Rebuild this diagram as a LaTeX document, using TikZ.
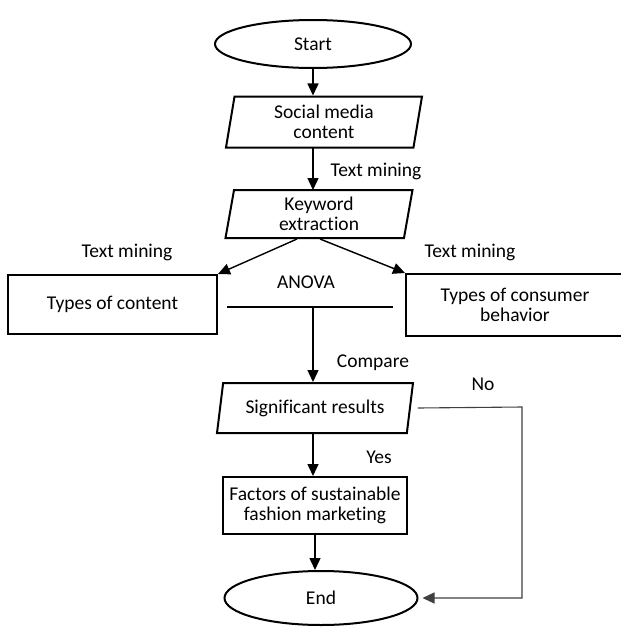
\documentclass[tikz,border=0pt]{standalone}
\usepackage{fontspec}
\setmainfont{Carlito}[Ligatures=NoCommon]
\usepackage{tikz}
\usetikzlibrary{arrows.meta}
\usetikzlibrary{shapes.geometric}
\usetikzlibrary{positioning}

\tikzset{
 box/.style={rectangle, draw=black, line width=2pt, inner sep=0pt, align=center},
 io/.style={trapezium, trapezium left angle=76, trapezium right angle=104, trapezium stretches body, draw=black, line width=2pt, inner sep=0pt, align=center},
 term/.style={ellipse, draw=black, line width=2pt, inner sep=0pt},
 go/.style={-{Triangle[width=11pt, length=12pt]}, line width=1.4pt, draw=black},
 lbl/.style={inner sep=0pt}
}

\begin{document}
\begin{tikzpicture}[x=1pt, y=-1pt, font=\fontsize{19.5}{20.5}\selectfont]
 \useasboundingbox (0,0) rectangle (621,627);
 \node [term, minimum width=196pt, minimum height=48pt] (St) at (313, 44) {Start};
 \node [io, minimum width=196pt, minimum height=51pt] (SM) at (324, 122) {Social media\\content};
 \node [io, minimum width=187pt, minimum height=48pt] (KE) at (319, 214) {Keyword\\extraction};
 \node [box, minimum width=209pt, minimum height=59pt] (TC) at (112.5, 304.5) {Types of content};
 \node [box, minimum width=218pt, minimum height=62pt] (TB) at (515, 305) {Types of consumer\\behavior};
 \node [io, trapezium left angle=70, trapezium right angle=110, minimum width=196pt, minimum height=50pt] (SR) at (315, 408) {Significant results};
 \node [box, minimum width=184pt, minimum height=57pt] (FS) at (315, 505.5) {Factors of sustainable\\fashion marketing};
 \node [term, minimum width=193pt, minimum height=54pt] (En) at (321, 598) {End};

 \node [lbl] (L1) at (376, 171) {Text mining};
 \node [lbl] (L2) at (127, 252) {Text mining};
 \node [lbl] (L3) at (470, 252) {Text mining};
 \node [lbl] (L4) at (306, 282) {ANOVA};
 \node [lbl] (L5) at (373, 363) {Compare};
 \node [lbl] (L6) at (483, 384) {No};
 \node [lbl] (L7) at (379, 457) {Yes};

 \coordinate (A1) at (227, 307);
 \coordinate (A2) at (393, 307);
 \coordinate (J) at (313, 307);
 \coordinate (N) at (522, 407);

 \draw [go] (St) to (St |- SM.north);
 \draw [go] (313, 148) to (313, 190);
 \draw [go] ([xshift=-22pt]KE.south) to (TC.north east);
 \draw [go] ([xshift=1pt]KE.south) to (TB.north west);
 \draw [line width=1.2pt] (A1) -- (A2);
 \draw [go] (J) to (J |- SR.north);
 \draw [go] (SR.south -| J) to (FS.north -| J);
 \draw [go] (FS) to (FS |- En.north);
 \draw [-{Triangle[width=11pt, length=12pt]}, line width=1.1pt, draw=black!75] ([xshift=7pt]SR.east) -- (N) |- ([xshift=4pt]En.east);
\end{tikzpicture}
\end{document}
